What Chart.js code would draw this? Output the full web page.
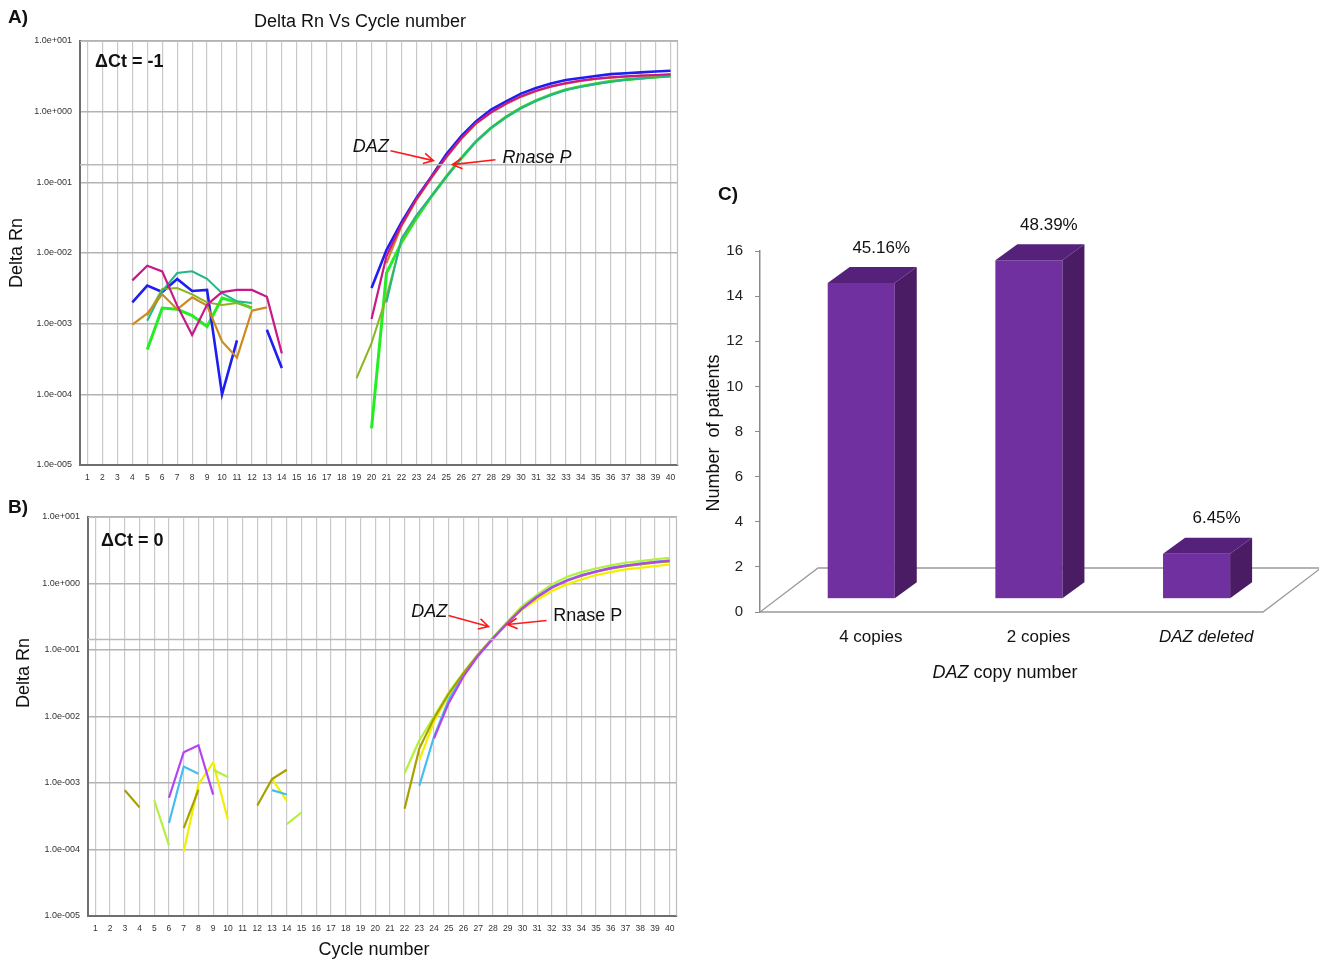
<!DOCTYPE html>
<html>
<head>
<meta charset="utf-8">
<script src="https://cdn.jsdelivr.net/npm/chart.js@4.4.0/dist/chart.umd.min.js"></script>
<style>
  body { margin: 0; background: #fff; width: 1319px; height: 961px; position: relative; overflow: hidden; }
  canvas { position: absolute; }
  #chartA { left: 0; top: 0; }
  #chartB { left: 0; top: 492px; }
  #chartC { left: 700px; top: 170px; }
</style>
</head>
<body>
<canvas id="chartA" width="690" height="492"></canvas>
<canvas id="chartB" width="690" height="469"></canvas>
<canvas id="chartC" width="620" height="530"></canvas>
<script>
const _ = null;
const cycles = [1,2,3,4,5,6,7,8,9,10,11,12,13,14,15,16,17,18,19,20,21,22,23,24,25,26,27,28,29,30,31,32,33,34,35,36,37,38,39,40];
const decades = [1e-5, 1e-4, 1e-3, 1e-2, 1e-1, 1, 10];

// panel A, delta Ct = -1
const blueA    = [_,_,_,.0020,.00345,.0028,.0043,.0029,.0030,.0001, .00058,_,.00082,.000236,_,_,_,_,_,.0032, .011,.027,.06,.12,.25,.45,.73,1.07,1.4,1.8, 2.16,2.5,2.8,3.0,3.2,3.4,3.5,3.6,3.7,3.8];
const magentaA = [_,_,_,.0041,.0066,.0055,.0018,.00069,.00186,.0028, .0030,.0030,.0024,.00038,_,_,_,_,_,.00116, .009,.025,.058,.118,.23,.42,.69,.98,1.3,1.65, 1.98,2.28,2.54,2.75,2.93,3.06,3.16,3.23,3.3,3.38];
const orangeA  = [_,_,_,.00097,.0014,.0026,.0016,.00236,.0018,.00056, .00033,.00153,.0017,_,_,_,_,_,_,_, .0072,.024,.056,.115,.225,.41,.68,.97,1.28,1.62, 1.95,2.25,2.5,2.72,2.9,3.03,3.13,3.2,3.27,3.34];
const tealA    = [_,_,_,_,.0011,.0029,.0052,.0055,.0043,.0027, .00207,.00196,_,_,_,_,_,_,_,_, .0020,.016,.034,.064,.12,.22,.38,.59,.84,1.12, 1.42,1.72,2.02,2.25,2.46,2.66,2.82,2.94,3.06,3.16];
const oliveA   = [_,_,_,_,.0013,.0031,.0032,.0026,.0020,.00184, .00196,.0017,_,_,_,_,_,_,.00017,.00053, .0024,.015,.033,.063,.12,.22,.38,.59,.85,1.13, 1.43,1.74,2.04,2.27,2.48,2.68,2.83,2.95,3.08,3.18];
const greenA   = [_,_,_,_,.00043,.00166,.0016,.0013,.00091,.0023, .0020,.00166,_,_,_,_,_,_,_,.000033, .0052,.014,.031,.063,.12,.22,.38,.59,.84,1.13, 1.43,1.74,2.05,2.28,2.49,2.69,2.84,2.96,3.1,3.2];
const thresholdA = 0.178;

// panel B, delta Ct = 0
const oliveB  = [_,_,.00078,.00043,_,_,.00021,.00079,_,_, _,.00046,.00115,.00158,_,_,_,_,_,_, _,.00041,.0033,.0094,.022,.045,.086,.15,.26,.43, .62,.86,1.1,1.3,1.5,1.67,1.82,1.94,2.05,2.15];
const yellowB = [_,_,_,_,_,_,.000093,.00095,.00204,.00028, _,_,.00115,.00054,_,_,_,_,_,_, _,_,.0022,.0084,.021,.045,.085,.15,.255,.41, .57,.77,.97,1.15,1.34,1.48,1.63,1.72,1.82,1.93];
const limeB   = [_,_,_,_,.00055,.000115,_,_,.00158,.00123, _,_,_,.00024,.00036,_,_,_,_,_, _,.0014,.0044,.010,.023,.046,.087,.155,.27,.46, .68,.97,1.25,1.48,1.68,1.87,2.05,2.17,2.3,2.44];
const skyB    = [_,_,_,_,_,.00025,.00177,.00138,_,_, _,_,.00078,.00067,_,_,_,_,_,_, _,_,.00091,.005,.018,.042,.085,.15,.26,.43, .64,.89,1.12,1.34,1.53,1.72,1.87,2.0,2.12,2.22];
const purpleB = [_,_,_,_,_,.0006,.0029,.0037,.00067,_, _,_,_,_,_,_,_,_,_,_, _,_,_,.0047,.016,.04,.082,.148,.255,.42, .63,.87,1.1,1.32,1.51,1.7,1.85,1.98,2.1,2.2];
const thresholdB = 0.144;

// panel C
const copyLabels = ['4 copies', '2 copies', 'DAZ deleted'];
const patientCounts = [14, 15, 2];

const SANS = '"Liberation Sans", Arial, sans-serif';

function expLabel(v) {
  const e = Math.round(Math.log10(v));
  return '1.0e' + (e < 0 ? '-' : '+') + String(Math.abs(e)).padStart(3, '0');
}

function line(data, color, width) {
  return { data: data, borderColor: color, borderWidth: width || 2.2, pointRadius: 0, fill: false, spanGaps: false };
}

function thresholdSet(v) {
  return { data: [{ x: 0.5, y: v }, { x: 40.5, y: v }], borderColor: '#b9b9b9', borderWidth: 1.5, pointRadius: 0 };
}

function arrow(ctx, x1, y1, x2, y2) {
  const a = Math.atan2(y2 - y1, x2 - x1), h = 11, s = 0.5;
  ctx.beginPath();
  ctx.moveTo(x1, y1); ctx.lineTo(x2, y2);
  ctx.moveTo(x2 - h * Math.cos(a - s), y2 - h * Math.sin(a - s));
  ctx.lineTo(x2, y2);
  ctx.lineTo(x2 - h * Math.cos(a + s), y2 - h * Math.sin(a + s));
  ctx.stroke();
}

// texts, frame and arrows for the amplification plots
const qpcrDecor = {
  id: 'qpcrDecor',
  afterDraw(chart, args, o) {
    const { ctx, chartArea: a, scales: { x, y } } = chart;
    ctx.save();
    ctx.strokeStyle = '#bdbdbd';
    ctx.lineWidth = 1.2;
    ctx.beginPath();
    ctx.moveTo(a.left, a.top + 0.5); ctx.lineTo(a.right - 0.5, a.top + 0.5); ctx.lineTo(a.right - 0.5, a.bottom);
    ctx.stroke();

    ctx.fillStyle = '#111';
    ctx.textBaseline = 'middle';
    o.texts.forEach(t => {
      ctx.font = t.font;
      ctx.textAlign = t.align || 'left';
      if (t.rotate) {
        ctx.save(); ctx.translate(t.px, t.py); ctx.rotate(-Math.PI / 2);
        ctx.fillText(t.text, 0, 0); ctx.restore();
      } else {
        ctx.fillText(t.text, t.px, t.py);
      }
    });
    o.labels.forEach(t => {
      ctx.font = t.font;
      ctx.textAlign = t.align;
      ctx.fillText(t.text, x.getPixelForValue(t.cx), y.getPixelForValue(t.cy));
    });
    ctx.strokeStyle = '#ff1a1a';
    ctx.lineWidth = 1.6;
    o.arrows.forEach(r => {
      arrow(ctx, x.getPixelForValue(r[0]), y.getPixelForValue(r[1]), x.getPixelForValue(r[2]), y.getPixelForValue(r[3]));
    });
    ctx.restore();
  }
};

function qpcrOptions(pad, yW, xH, decor) {
  return {
    responsive: false,
    animation: false,
    layout: { padding: pad },
    plugins: { legend: { display: false }, tooltip: { enabled: false }, qpcrDecor: decor },
    scales: {
      x: {
        type: 'linear', min: 0.5, max: 40.5,
        afterBuildTicks: s => { s.ticks = cycles.map(v => ({ value: v })); },
        afterFit: s => { s.height = xH; },
        grid: { color: '#c9c9c9', lineWidth: 1.2, drawTicks: false },
        border: { color: '#6e6e6e', width: 2 },
        ticks: { font: { family: SANS, size: 8.5 }, color: '#333', padding: 8, maxRotation: 0, autoSkip: false }
      },
      y: {
        type: 'logarithmic', min: 1e-5, max: 10,
        afterBuildTicks: s => { s.ticks = decades.map(v => ({ value: v })); },
        afterFit: s => { s.width = yW; },
        grid: { color: '#b3b3b3', lineWidth: 1.5, drawTicks: false },
        border: { color: '#6e6e6e', width: 2 },
        ticks: { callback: v => expLabel(v), font: { family: SANS, size: 9 }, color: '#333', padding: 8 }
      }
    }
  };
}

new Chart(document.getElementById('chartA'), {
  type: 'line',
  data: {
    labels: cycles,
    datasets: [
      thresholdSet(thresholdA),
      line(magentaA, '#c8188a'),
      line(orangeA, '#cc8a20'),
      line(tealA, '#20b888', 2),
      line(oliveA, '#8cb420', 2),
      line(blueA, '#1e1ef0', 2.6),
      line(greenA, '#22ee22', 3)
    ]
  },
  options: qpcrOptions({ top: 41, right: 12, left: 0, bottom: 0 }, 80, 27, {
    texts: [
      { text: 'A)', font: 'bold 19px ' + SANS, px: 8, py: 18 },
      { text: 'Delta Rn Vs Cycle number', font: '18px ' + SANS, px: 360, py: 22, align: 'center' },
      { text: '\u0394Ct = -1', font: 'bold 18px ' + SANS, px: 95, py: 62 },
      { text: 'Delta Rn', font: '18px ' + SANS, px: 17, py: 253, align: 'center', rotate: true }
    ],
    labels: [
      { text: 'DAZ', font: 'italic 18px ' + SANS, align: 'right', cx: 21.15, cy: 0.32 },
      { text: 'Rnase P', font: 'italic 18px ' + SANS, align: 'left', cx: 28.76, cy: 0.224 }
    ],
    arrows: [[21.27, 0.28, 24.14, 0.203], [28.29, 0.209, 25.41, 0.178]]
  }),
  plugins: [qpcrDecor]
});

new Chart(document.getElementById('chartB'), {
  type: 'line',
  data: {
    labels: cycles,
    datasets: [
      thresholdSet(thresholdB),
      line(purpleB, '#b444f0'),
      line(oliveB, '#a8a000'),
      line(skyB, '#44bdf2'),
      line(limeB, '#b4f03c'),
      line(yellowB, '#f2f000')
    ]
  },
  options: qpcrOptions({ top: 25, right: 13, left: 0, bottom: 0 }, 88, 45, {
    texts: [
      { text: 'B)', font: 'bold 19px ' + SANS, px: 8, py: 16 },
      { text: '\u0394Ct = 0', font: 'bold 18px ' + SANS, px: 101, py: 49 },
      { text: 'Delta Rn', font: '18px ' + SANS, px: 24, py: 181, align: 'center', rotate: true },
      { text: 'Cycle number', font: '18px ' + SANS, px: 374, py: 458, align: 'center' }
    ],
    labels: [
      { text: 'DAZ', font: 'italic 18px ' + SANS, align: 'right', cx: 24.9, cy: 0.379 },
      { text: 'Rnase P', font: '18px ' + SANS, align: 'left', cx: 32.1, cy: 0.319 }
    ],
    arrows: [[24.98, 0.33, 27.7, 0.226], [31.64, 0.278, 28.99, 0.242]]
  }),
  plugins: [qpcrDecor]
});

// pseudo 3D columns on a floor
const bars3d = {
  id: 'bars3d',
  beforeDatasetsDraw(chart, args, o) {
    const { ctx, chartArea: a } = chart;
    ctx.save();
    ctx.strokeStyle = '#9a9a9a';
    ctx.lineWidth = 1.3;
    ctx.beginPath();
    ctx.moveTo(a.left, a.bottom);
    ctx.lineTo(a.right, a.bottom);
    ctx.lineTo(a.right + o.floor[0], a.bottom + o.floor[1]);
    ctx.lineTo(a.left + o.floor[0], a.bottom + o.floor[1]);
    ctx.closePath();
    ctx.stroke();
    ctx.restore();
    ctx.save();
    ctx.translate(o.floor[0] * o.inset, o.floor[1] * o.inset);
  },
  afterDatasetsDraw(chart, args, o) {
    const ctx = chart.ctx, [dx, dy] = o.depth;
    const total = patientCounts.reduce((s, v) => s + v, 0);
    chart.getDatasetMeta(0).data.forEach((bar, i) => {
      const l = bar.x - bar.width / 2, r = bar.x + bar.width / 2, t = bar.y, b = bar.base;
      ctx.fillStyle = o.side;
      ctx.beginPath();
      ctx.moveTo(r, b); ctx.lineTo(r + dx, b + dy); ctx.lineTo(r + dx, t + dy); ctx.lineTo(r, t);
      ctx.closePath(); ctx.fill();
      ctx.fillStyle = o.top;
      ctx.beginPath();
      ctx.moveTo(l, t); ctx.lineTo(l + dx, t + dy); ctx.lineTo(r + dx, t + dy); ctx.lineTo(r, t);
      ctx.closePath(); ctx.fill();
      ctx.fillStyle = '#111';
      ctx.font = '17px ' + SANS;
      ctx.textAlign = 'center';
      ctx.textBaseline = 'middle';
      ctx.fillText((patientCounts[i] / total * 100).toFixed(2) + '%', bar.x + 20, t - 35);
    });
    ctx.restore();
  },
  afterDraw(chart, args, o) {
    const { ctx, chartArea: a, scales: { x } } = chart;
    ctx.save();
    ctx.fillStyle = '#111';
    ctx.textBaseline = 'middle';
    copyLabels.forEach((lab, i) => {
      ctx.font = (i === 2 ? 'italic ' : '') + '17px ' + SANS;
      ctx.textAlign = 'center';
      ctx.fillText(lab, x.getPixelForTick(i) + o.labelShift, a.bottom + 25);
    });
    // axis title with italic gene name
    ctx.font = 'italic 18px ' + SANS;
    const w1 = ctx.measureText('DAZ').width;
    ctx.font = '18px ' + SANS;
    const w2 = ctx.measureText(' copy number').width;
    const sx = 305 - (w1 + w2) / 2;
    ctx.textAlign = 'left';
    ctx.font = 'italic 18px ' + SANS;
    ctx.fillText('DAZ', sx, a.bottom + 61);
    ctx.font = '18px ' + SANS;
    ctx.fillText(' copy number', sx + w1, a.bottom + 61);

    ctx.textAlign = 'center';
    ctx.save();
    ctx.translate(14, 263);
    ctx.rotate(-Math.PI / 2);
    ctx.fillText('Number  of patients', 0, 0);
    ctx.restore();

    ctx.font = 'bold 19px ' + SANS;
    ctx.textAlign = 'left';
    ctx.fillText('C)', 18, 25);
    ctx.restore();
  }
};

new Chart(document.getElementById('chartC'), {
  type: 'bar',
  data: {
    labels: copyLabels,
    datasets: [{ data: patientCounts, backgroundColor: '#7030a0', borderWidth: 0, barPercentage: 0.4, categoryPercentage: 1 }]
  },
  options: {
    responsive: false,
    animation: false,
    layout: { padding: { top: 81, right: 57, left: 0, bottom: 0 } },
    plugins: {
      legend: { display: false },
      tooltip: { enabled: false },
      bars3d: { floor: [58, -44], inset: 0.3, depth: [22, -16], side: '#4a1c64', top: '#55217a', labelShift: 27 }
    },
    scales: {
      x: {
        grid: { display: false },
        border: { display: false },
        ticks: { display: false },
        afterFit: s => { s.height = 88; }
      },
      y: {
        min: 0, max: 16,
        afterFit: s => { s.width = 60; },
        grid: { drawOnChartArea: false, drawTicks: true, tickLength: 5, color: '#8a8a8a' },
        border: { color: '#8a8a8a', width: 1.5 },
        ticks: { stepSize: 2, font: { family: SANS, size: 15 }, color: '#222', padding: 12 }
      }
    }
  },
  plugins: [bars3d]
});
</script>
</body>
</html>
